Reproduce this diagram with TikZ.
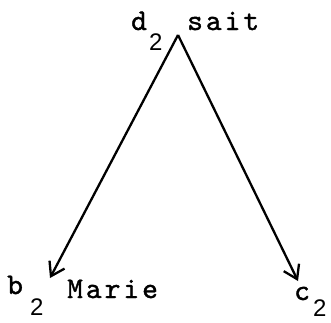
\documentclass[tikz,border=0pt]{standalone}
\usepackage{fontspec}
\newfontfamily\digitfont{Liberation Sans}
\newfontfamily\typewriter{lmmono10-regular.otf}[LetterSpace=10,FakeBold=1.2]
\usetikzlibrary{arrows.meta}
\tikzset{
  word/.style={font=\typewriter\fontsize{30}{30}\selectfont, inner sep=0pt, anchor=base west},
  sub/.style={font=\digitfont\fontsize{24}{24}\selectfont, inner sep=0pt, anchor=base west},
  edge/.style={line width=2.3pt, -{Straight Barb[length=13pt,width=17pt,line width=2.3pt]}}
}
\begin{document}
\begin{tikzpicture}[x=1pt,y=-1pt]
  \useasboundingbox (0,0) rectangle (331,322);
  % tree: apex and the two leaves
  \coordinate (d) at (178,35);
  \coordinate (b) at (50,278);
  \coordinate (c) at (298,281);
  \draw[edge] (d) -- (b);
  \draw[edge] (d) -- (c);
  % labels
  \node[word] (dl) at (131,30) {d};
  \node[sub]  (dn) at (149,50) {2};
  \node[word] (sait) at (187,30) {sait};
  \node[word] (bl) at (7,294) {b};
  \node[sub]  (bn) at (30,315) {2};
  \node[word] (marie) at (67,298) {Marie};
  \node[word] (cl) at (294,300) {c};
  \node[sub]  (cn) at (313,316) {2};
\end{tikzpicture}
\end{document}
